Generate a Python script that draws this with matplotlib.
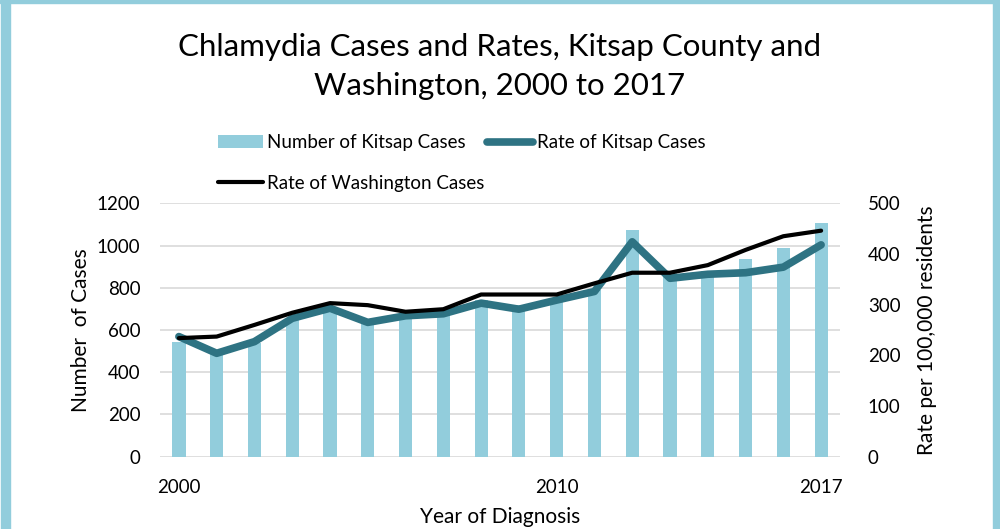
import matplotlib
matplotlib.use("Agg")
import matplotlib.pyplot as plt
from matplotlib.patches import Rectangle, Patch
from matplotlib.lines import Line2D
import numpy as np

years = list(range(2000, 2018))
kitsap_cases = [545, 490, 537, 648, 687, 632, 655, 671, 742, 718, 742, 789, 1074, 875, 880, 935, 987, 1108]
kitsap_rate = [237, 204, 227, 273, 293, 265, 278, 282, 303, 291, 309, 326, 424, 352, 360, 363, 374, 418]
wa_rate = [234, 237, 260, 284, 303, 299, 286, 291, 320, 320, 320, 342, 363, 363, 378, 408, 435, 446]
tick_years = [2000, 2010, 2017]

BAR = "#92CDDC"
TEAL = "#2E7383"
GRID = "#D9D9D9"
FONT = "Lato"
plt.rcParams['font.family'] = [FONT, 'DejaVu Sans']

fig = plt.figure(figsize=(10, 5.29), dpi=100)
ax = fig.add_axes([0.16, 0.1367, 0.68, 0.479])
ax2 = ax.twinx()

x = np.arange(len(years))
ax.bar(x, kitsap_cases, width=0.35, color=BAR, zorder=2)
ax.set_ylim(0, 1200)
ax.set_yticks(range(0, 1201, 200))
ax.set_xlim(-0.5, len(years) - 0.5)
ax.grid(axis='y', color=GRID, linewidth=1.2, zorder=0)
ax.set_axisbelow(True)

ax2.plot(x, kitsap_rate, color=TEAL, linewidth=5.5, solid_capstyle='round', solid_joinstyle='round', zorder=3)
ax2.plot(x, wa_rate, color='black', linewidth=3, solid_capstyle='round', solid_joinstyle='round', zorder=4)
ax2.set_ylim(0, 500)
ax2.set_yticks(range(0, 501, 100))

ax.set_xticks([years.index(y) for y in tick_years])
ax.set_xticklabels([str(y) for y in tick_years])

for a in (ax, ax2):
    for s in a.spines.values():
        s.set_visible(False)
    a.tick_params(length=0, labelsize=13.5, colors='black')
ax.tick_params(axis='y', pad=14)
ax2.tick_params(axis='y', pad=20)
ax.tick_params(axis='x', pad=16)

ax.set_ylabel("Number  of Cases", fontsize=15, labelpad=4)
ax2.set_ylabel("Rate per 100,000 residents", fontsize=15, labelpad=12)
ax.set_xlabel("Year of Diagnosis", fontsize=15, labelpad=8)

fig.text(0.5, 0.874, "Chlamydia Cases and Rates, Kitsap County and\nWashington, 2000 to 2017",
         ha='center', va='center', fontsize=22.5, linespacing=1.5)

handles = [Patch(facecolor=BAR, edgecolor='none'),
           Line2D([], [], color='black', linewidth=3, solid_capstyle='round'),
           Line2D([], [], color=TEAL, linewidth=5.5, solid_capstyle='round')]
labels = ["Number of Kitsap Cases", "Rate of Washington Cases", "Rate of Kitsap Cases"]
fig.legend(handles, labels, loc='upper left', bbox_to_anchor=(0.21, 0.760), ncol=2,
           frameon=False, fontsize=13.5, handlelength=2.45, handletextpad=0.2,
           columnspacing=0.15, labelspacing=1.25, borderaxespad=0)

# light blue frame
fig.patches.append(Rectangle((0.001, 0), 0.009, 1, transform=fig.transFigure, color=BAR, zorder=0))
fig.patches.append(Rectangle((0.993, 0), 0.007, 1, transform=fig.transFigure, color=BAR, zorder=0))
fig.patches.append(Rectangle((0, 0.995), 1, 0.005, transform=fig.transFigure, color=BAR, zorder=0))

fig.savefig("out.png", dpi=100)
